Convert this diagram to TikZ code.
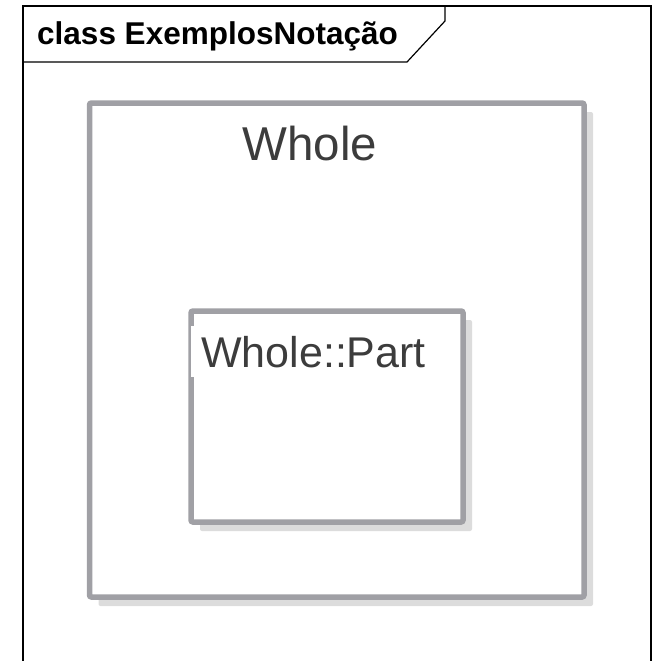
\documentclass[tikz,border=0pt]{standalone}
\usepackage{fontspec}
\setmainfont{Liberation Sans}
\usetikzlibrary{shadows}
\definecolor{rim}{RGB}{160,160,165}
\definecolor{shade}{RGB}{220,220,220}
\definecolor{ink}{RGB}{60,60,60}
\tikzset{
  frame/.style={line width=1.2pt,black},
  part/.style={draw=rim,fill=white,line width=5.5pt,rounded corners=2pt,
    drop shadow={shadow xshift=9pt,shadow yshift=-9pt,opacity=1,fill=shade}},
  partname/.style={ink,fill=white},
}

\begin{document}
\begin{tikzpicture}[x=1pt,y=-1pt]
  \useasboundingbox (0,0) rectangle (656,661);
  % diagram frame and its tab
  \draw[frame] (23,661) -- (23,6) -- (651,6) -- (651,661);
  \draw[frame] (23,62) -- (407,62) -- (445,21) -- (445,6);
  \node[anchor=base west,inner sep=0pt,font=\fontsize{31.5}{34}\selectfont\bfseries]
    (title) at (37,45) {class ExemplosNotação};
  % outer class
  \node[part,minimum width=494.5pt,minimum height=494pt] (whole) at (336.75,350) {};
  \node[partname,anchor=base,inner xsep=11pt,inner ysep=12pt,
    font=\fontsize{47.5}{52}\selectfont] (wholename) at (310,160) {Whole};
  % nested class
  \node[part,minimum width=272pt,minimum height=211pt] (part) at (327,416.5) {};
  \node[partname,anchor=base west,inner sep=10pt,
    font=\fontsize{43}{47}\selectfont] (partname) at (191,367) {Whole::Part};
\end{tikzpicture}
\end{document}
